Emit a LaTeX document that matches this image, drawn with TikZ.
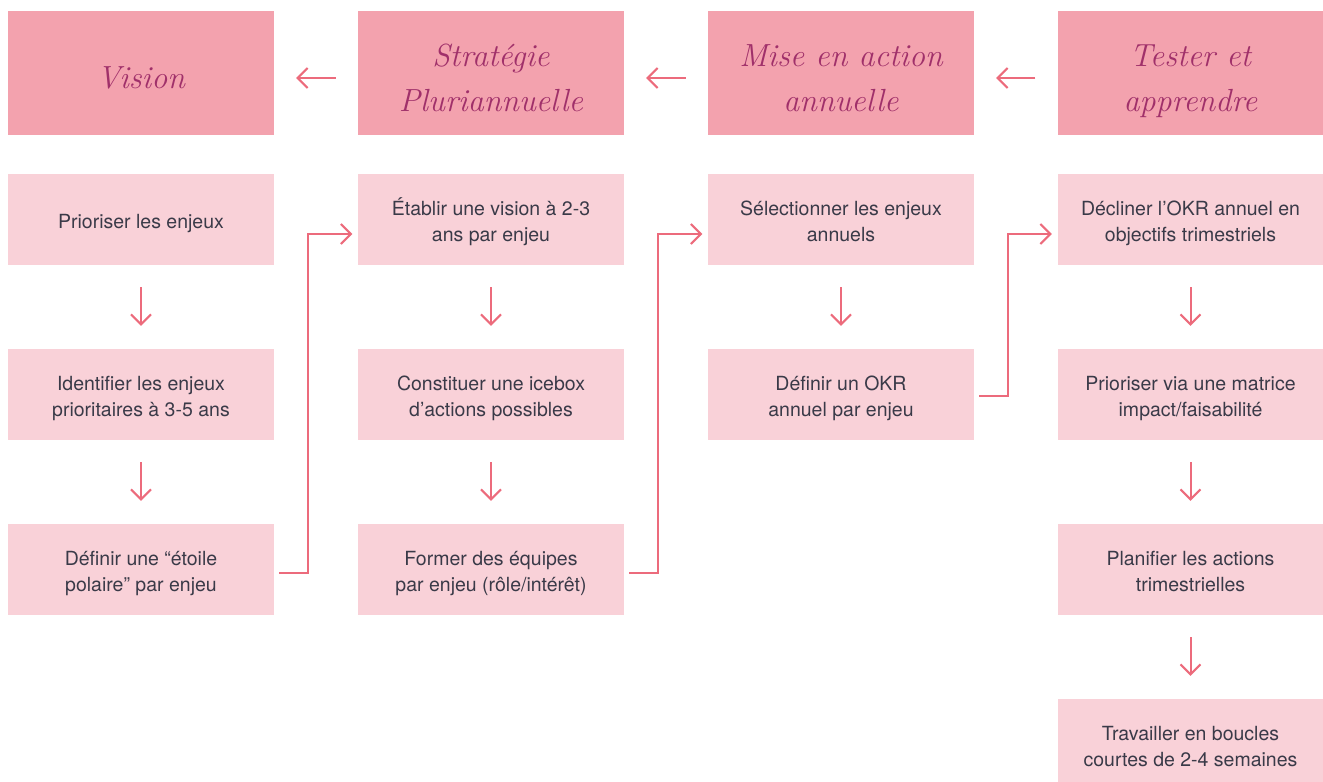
\documentclass[tikz,border=0pt]{standalone}
\usepackage{fontspec}
\newfontfamily\bodyfont{TeX Gyre Heros}
\usetikzlibrary{arrows.meta}
\definecolor{headfill}{HTML}{F3A2AE}
\definecolor{boxfill}{HTML}{F9D1D8}
\definecolor{linkpink}{HTML}{EC6B7C}
\definecolor{headtext}{HTML}{A0306A}
\definecolor{bodytext}{HTML}{3A3A48}
\tikzset{
  % filled panels; their text is set as a centred label a little below the middle
  header/.style={rectangle, fill=headfill, minimum width=266pt, minimum height=124pt,
    inner sep=0pt},
  stepbox/.style={rectangle, fill=boxfill, minimum width=266pt, minimum height=91pt,
    inner sep=0pt},
  headtitle/.style={inner sep=0pt, text=headtext, yshift=-6.5pt,
    font=\fontsize{32}{45}\selectfont\itshape},
  steptext/.style={inner sep=0pt, text=bodytext, yshift=-4pt,
    font=\bodyfont\fontsize{19.5}{26}\selectfont},
  link/.style={draw=linkpink, line width=2pt,
    -{Straight Barb[length=10pt,width=20pt,line width=2pt]}},
}
% centred lines with struts of equal height, so every panel text sits alike
\newcommand\rowsof[1]{\begin{tabular}{@{}c@{}}#1\end{tabular}}
\newcommand\headpanel[3]{\node[header, label={[headtitle]center:\rowsof{#3}}] (#1) at (#2) {};}
\newcommand\steppanel[3]{\node[stepbox, label={[steptext]center:\rowsof{#3}}] (#1) at (#2) {};}
\begin{document}
\begin{tikzpicture}[x=1pt, y=-1pt]
\useasboundingbox (0,0) rectangle (1323,782);
\clip (0,0) rectangle (1323,782);

% column headers
\headpanel{h1}{141,73}{Vision}
\headpanel{h2}{491,73}{Stratégie\\Pluriannuelle}
\headpanel{h3}{841,73}{Mise en action\\annuelle}
\headpanel{h4}{1190.5,73}{Tester et\\apprendre}

% column 1
\steppanel{a1}{141,219.5}{Prioriser les enjeux}
\steppanel{a2}{141,394.5}{Identifier les enjeux\\prioritaires à 3-5 ans}
\steppanel{a3}{141,569.5}{Définir une “étoile\\polaire” par enjeu}

% column 2
\steppanel{b1}{491,219.5}{Établir une vision à 2-3\\ans par enjeu}
\steppanel{b2}{491,394.5}{Constituer une icebox\\d’actions possibles}
\steppanel{b3}{491,569.5}{Former des équipes\\par enjeu (rôle/intérêt)}

% column 3
\steppanel{c1}{841,219.5}{Sélectionner les enjeux\\annuels}
\steppanel{c2}{841,394.5}{Définir un OKR\\annuel par enjeu}

% column 4
\steppanel{d1}{1190.5,219.5}{Décliner l’OKR annuel en\\objectifs trimestriels}
\steppanel{d2}{1190.5,394.5}{Prioriser via une matrice\\impact/faisabilité}
\steppanel{d3}{1190.5,569.5}{Planifier les actions\\trimestrielles}
\steppanel{d4}{1190.5,744.5}{Travailler en boucles\\courtes de 2-4 semaines}

% arrows between headers
\draw[link] ([xshift=-22pt,yshift=-5pt]h2.west) -- ([xshift=22pt,yshift=-5pt]h1.east);
\draw[link] ([xshift=-22pt,yshift=-5pt]h3.west) -- ([xshift=22pt,yshift=-5pt]h2.east);
\draw[link] ([xshift=-22pt,yshift=-5pt]h4.west) -- ([xshift=22pt,yshift=-5pt]h3.east);

% arrows down each column
\foreach \u/\v in {a1/a2, a2/a3, b1/b2, b2/b3, c1/c2, d1/d2, d2/d3, d3/d4}
  \draw[link] ([yshift=-22pt]\u.south) -- ([yshift=23pt]\v.north);

% elbow links to the next column
\draw[link] ([xshift=5pt,yshift=-3.5pt]a3.east) -- ++(28.5,0) |- ([xshift=-5.5pt,yshift=-14.5pt]b1.west);
\draw[link] ([xshift=5pt,yshift=-3.5pt]b3.east) -- ++(28.5,0) |- ([xshift=-5.5pt,yshift=-14.5pt]c1.west);
\draw[link] ([xshift=5pt,yshift=-1.5pt]c2.east) -- ++(28.5,0) |- ([xshift=-5.5pt,yshift=-14.5pt]d1.west);
\end{tikzpicture}
\end{document}
